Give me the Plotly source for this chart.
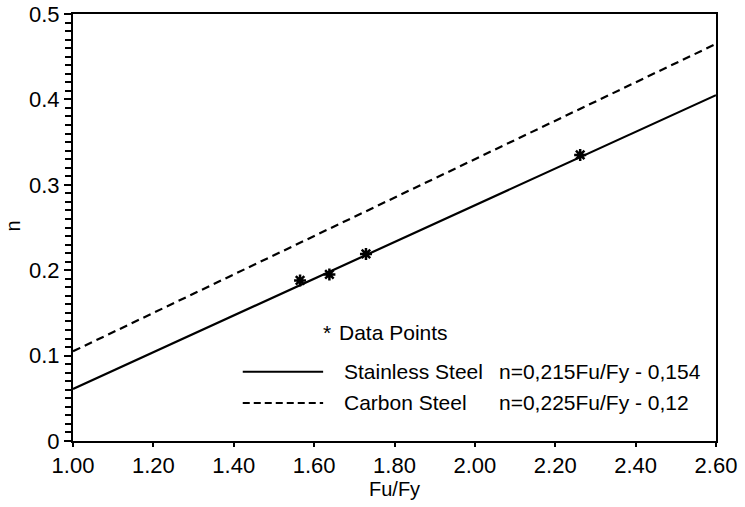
import plotly.graph_objects as go

# data
fu_fy_points = [1.565, 1.638, 1.729, 2.262]
n_points = [0.188, 0.195, 0.219, 0.335]

line_x = [1.00, 2.60]
stainless_n = [0.061, 0.405]   # n=0,215Fu/Fy - 0,154
carbon_n = [0.105, 0.465]      # n=0,225Fu/Fy - 0,12

x_ticks = [1.0, 1.2, 1.4, 1.6, 1.8, 2.0, 2.2, 2.4, 2.6]
x_labels = ['1.00', '1.20', '1.40', '1.60', '1.80', '2.00', '2.20', '2.40', '2.60']
y_ticks = [0, 0.1, 0.2, 0.3, 0.4, 0.5]
y_labels = ['0', '0.1', '0.2', '0.3', '0.4', '0.5']

font = 'Liberation Sans, Arial, sans-serif'

stainless = go.Scatter(x=line_x, y=stainless_n, mode='lines',
                       line={'color': 'black', 'width': 2.2}, showlegend=False)
carbon = go.Scatter(x=line_x, y=carbon_n, mode='lines',
                    line={'color': 'black', 'width': 2.2, 'dash': '8px,5px'}, showlegend=False)
points = go.Scatter(x=fu_fy_points, y=n_points, mode='markers',
                    marker={'symbol': 'asterisk-open', 'size': 10, 'color': 'black',
                            'line': {'color': 'black', 'width': 2.5}},
                    showlegend=False)

fig = go.Figure((stainless, carbon, points))

# hand drawn legend inside the plot
legend_text = {'family': font, 'size': 21, 'color': 'black'}
annotations = [
    dict(x=0.385, y=0.253, text='*', xanchor='left'),
    dict(x=0.411, y=0.253, text='Data Points', xanchor='left'),
    dict(x=0.418, y=0.162, text='Stainless Steel', xanchor='left'),
    dict(x=0.659, y=0.162, text='n=0,215Fu/Fy - 0,154', xanchor='left'),
    dict(x=0.418, y=0.089, text='Carbon Steel', xanchor='left'),
    dict(x=0.659, y=0.089, text='n=0,225Fu/Fy - 0,12', xanchor='left'),
]
for a in annotations:
    a.update(xref='paper', yref='paper', showarrow=False, yanchor='middle', font=legend_text)

# axis titles placed by hand
title_font = {'family': font, 'size': 20, 'color': 'black'}
annotations.append(dict(x=0.5, y=-0.112, text='Fu/Fy', xref='paper', yref='paper',
                        showarrow=False, xanchor='center', yanchor='middle', font=title_font))
annotations.append(dict(x=-0.093, y=0.503, text='n', xref='paper', yref='paper', textangle=-90,
                        showarrow=False, xanchor='center', yanchor='middle', font=title_font))

shapes = [
    dict(type='line', xref='paper', yref='paper', x0=0.264, x1=0.389, y0=0.162, y1=0.162,
         line={'color': 'black', 'width': 2}),
    dict(type='line', xref='paper', yref='paper', x0=0.264, x1=0.389, y0=0.089, y1=0.089,
         line={'color': 'black', 'width': 2, 'dash': '7px,4px'}),
]

fig.update_layout(
    width=745, height=507,
    margin={'l': 73, 'r': 29, 't': 14, 'b': 66},
    paper_bgcolor='white', plot_bgcolor='white',
    font={'family': font, 'size': 22, 'color': 'black'},
    annotations=annotations, shapes=shapes,
    xaxis={'range': [1.0, 2.6], 'tickvals': x_ticks, 'ticktext': x_labels,
           'ticks': 'outside', 'ticklen': 4, 'tickwidth': 2, 'tickcolor': 'black',
           'showline': True, 'linecolor': 'black', 'linewidth': 2, 'mirror': True,
           'showgrid': False, 'zeroline': False, 'automargin': False},
    yaxis={'range': [0, 0.5], 'tickvals': y_ticks, 'ticktext': y_labels,
           'ticks': 'outside', 'ticklen': 7, 'tickwidth': 2, 'tickcolor': 'black',
           'minor': {'dtick': 0.01, 'ticks': 'outside', 'ticklen': 6, 'tickwidth': 2,
                     'tickcolor': 'black', 'showgrid': False},
           'showline': True, 'linecolor': 'black', 'linewidth': 2, 'mirror': True,
           'showgrid': False, 'zeroline': False, 'automargin': False},
)

# drop the default body margin so the figure sits at the page corner
fig.write_html('out.html', config={'displayModeBar': False},
               post_script="document.body.style.margin='0';")
